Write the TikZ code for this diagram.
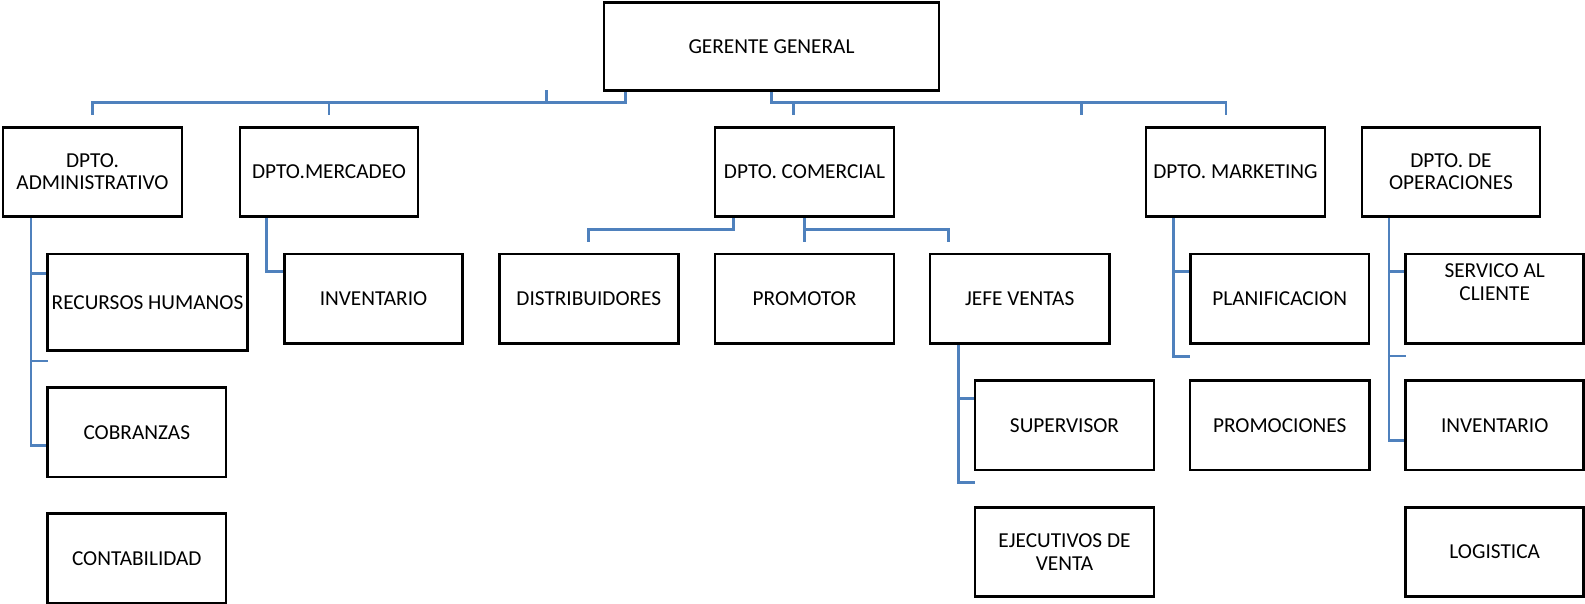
\documentclass[tikz,border=0pt]{standalone}
\usepackage{fontspec}
\setmainfont{Carlito}
\usetikzlibrary{backgrounds}
\definecolor{connblue}{HTML}{4F81BD}
\begin{document}
\begin{tikzpicture}[x=1pt,y=-1pt,
  box/.style={draw=black, line width=2.7pt, fill=white, inner sep=2pt, outer sep=0pt,
    align=center, font=\fontsize{21.3pt}{22.3pt}\selectfont,
    minimum width=179pt, minimum height=89.3pt},
  boxtext/.style={align=center, inner sep=0pt, font=\fontsize{21.3pt}{22.6pt}\selectfont},
  conn/.style={draw=connblue, line width=2.8pt}]
\useasboundingbox (0,0) rectangle (1585,604);
% level 0
\node[box, minimum width=335pt, minimum height=88pt] (ger) at (771.5,46.5) {GERENTE GENERAL};
% level 1
\node[box] (adm) at (92.5,172) {DPTO.\\ADMINISTRATIVO};
\node[box, minimum width=178pt] (mer) at (329,172) {DPTO.MERCADEO};
\node[box] (com) at (804.5,172) {DPTO. COMERCIAL};
\node[box] (mkt) at (1235.5,172) {DPTO. MARKETING};
\node[box, minimum width=178pt] (ope) at (1451,172) {DPTO. DE\\OPERACIONES};
% level 2
\node[box, minimum width=199.7pt, minimum height=96.7pt] (rh) at (147.5,302.3) {RECURSOS HUMANOS};
\node[box, minimum width=178.6pt] (inv1) at (373.5,298.7) {INVENTARIO};
\node[box] (dis) at (588.8,298.7) {DISTRIBUIDORES};
\node[box] (pro) at (804.5,298.7) {PROMOTOR};
\node[box, minimum width=179.3pt] (jef) at (1019.7,298.7) {JEFE VENTAS};
\node[box, minimum width=178.5pt] (pla) at (1279.7,298.7) {PLANIFICACION};
\node[box, minimum width=178pt] (ser) at (1494.7,298.7) {};
\node[boxtext] (sertxt) at ([yshift=16.7pt]ser.center) {SERVICO AL\\CLIENTE};
% level 3
\node[box, minimum width=178.5pt] (cob) at (136.8,432.2) {COBRANZAS};
\node[box] (sup) at (1064.5,425.3) {SUPERVISOR};
\node[box, minimum width=179.3pt] (prm) at (1279.7,425.3) {PROMOCIONES};
\node[box, minimum width=178pt] (inv2) at (1494.7,425.3) {INVENTARIO};
% level 4
\node[box, minimum width=178.5pt] (con) at (136.8,558.2) {CONTABILIDAD};
\node[box] (eje) at (1064.5,552) {EJECUTIVOS DE\\VENTA};
\node[box, minimum width=178pt] (log) at (1494.7,552) {LOGISTICA};

\begin{scope}[on background layer]
  % top bus, left
  \coordinate (busL) at (92.5,102.7);
  \coordinate (stubL) at (546.7,102.7);
  \draw[conn] ([xshift=21.3pt]ger.south west) |- (busL) -- ([yshift=12.5pt]adm.north);
  \draw[conn] (mer.north |- busL) -- ([yshift=12.5pt]mer.north);
  \draw[conn] (stubL) -- (stubL |- ger.south);
  % top bus, right
  \coordinate (busR) at (1226,102.7);
  \coordinate (tR1) at (793.3,102.7);
  \coordinate (tR2) at (1081.7,102.7);
  \draw[conn] (ger.south) |- (busR) -- ++(0,12.3);
  \draw[conn] (tR1) -- ++(0,12.3);
  \draw[conn] (tR2) -- ++(0,12.3);
  % administrativo
  \coordinate (a1) at ([xshift=28pt]adm.south west);
  \draw[conn] (a1) |- ([yshift=-13.5pt]cob.west);
  \draw[conn] (a1 |- 0,273.3) -- ([yshift=29pt]rh.west);
  \draw[conn] (a1 |- 0,361) -- (rh.west |- 0,361);
  % mercadeo
  \coordinate (m1) at ([xshift=26.8pt]mer.south west);
  \draw[conn] (m1) |- ([yshift=27pt]inv1.west);
  % comercial
  \coordinate (c1) at ([xshift=18.3pt]com.south west);
  \draw[conn] (c1) -- ++(0,12.8) -| ([yshift=12.3pt]dis.north);
  \draw[conn] (com.south) -- ([yshift=12.3pt]pro.north);
  \draw[conn] (com.south |- 0,229.3) -| ([xshift=18.7pt,yshift=12.3pt]jef.north west);
  % jefe ventas
  \coordinate (j1) at ([xshift=28.3pt]jef.south west);
  \draw[conn] (j1) |- (sup.west |- 0,482.7);
  \draw[conn] (j1 |- 0,398.3) -- ([yshift=27pt]sup.west);
  % marketing
  \coordinate (k1) at ([xshift=27.3pt]mkt.south west);
  \draw[conn] (k1) |- (pla.west |- 0,356.3);
  \draw[conn] (k1 |- 0,271.7) -- ([yshift=27pt]pla.west);
  % operaciones
  \coordinate (o1) at ([xshift=27pt]ope.south west);
  \draw[conn] (o1) |- ([yshift=-15.4pt]inv2.west);
  \draw[conn] (o1 |- 0,271.7) -- ([yshift=27pt]ser.west);
  \draw[conn] (o1 |- 0,356) -- (ser.west |- 0,356);
\end{scope}
\end{tikzpicture}
\end{document}
